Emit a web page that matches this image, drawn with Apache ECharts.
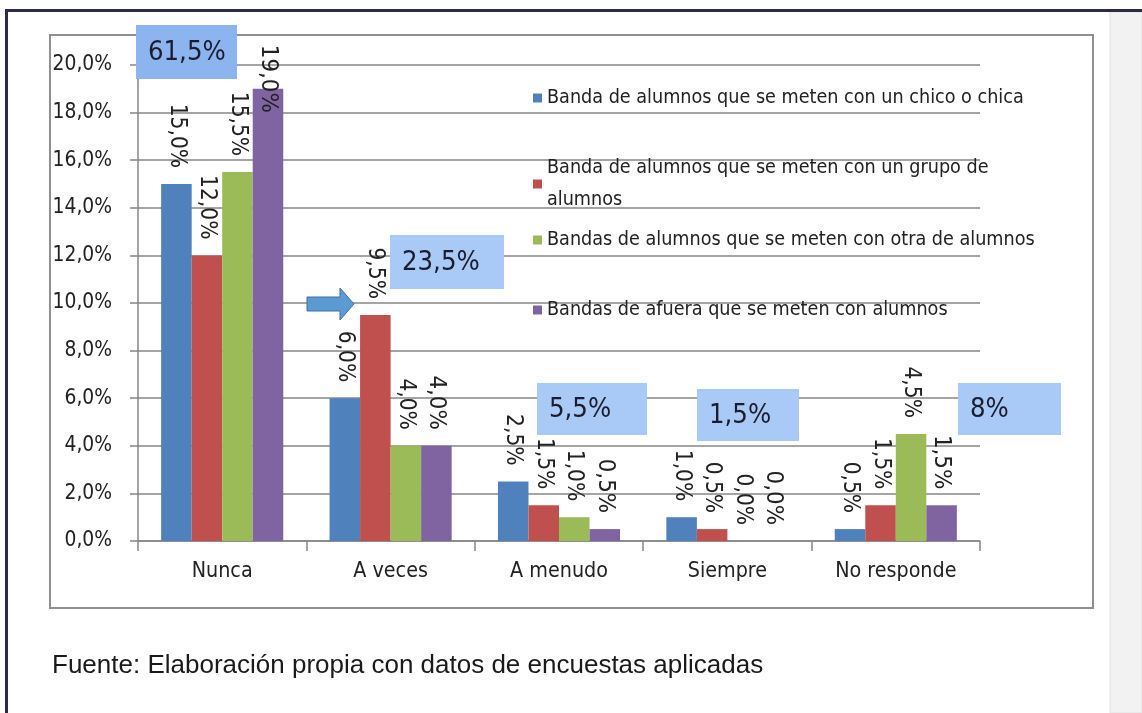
<!DOCTYPE html>
<html><head><meta charset="utf-8">
<script src="https://cdn.jsdelivr.net/npm/echarts@6/dist/echarts.min.js"></script>
<style>html,body{margin:0;padding:0;background:#fff;overflow:hidden}#c{width:1142px;height:713px}</style>
</head><body><div id="c"></div>
<script>
// ---- data ----
const categories = ['Nunca', 'A veces', 'A menudo', 'Siempre', 'No responde'];
const seriesNames = [
  'Banda de alumnos que se meten con un chico o chica',
  'Banda de alumnos que se meten con un grupo de alumnos',
  'Bandas de alumnos que se meten con otra de alumnos',
  'Bandas de afuera que se meten con alumnos'
];
const chicoChica   = [15.0, 6.0, 2.5, 1.0, 0.5];
const grupoAlumnos = [12.0, 9.5, 1.5, 0.5, 1.5];
const otraAlumnos  = [15.5, 4.0, 1.0, 0.0, 4.5];
const deAfuera     = [19.0, 4.0, 0.5, 0.0, 1.5];
const totalLabels  = ['61,5%', '23,5%', '5,5%', '1,5%', '8%'];
const yMin = 0, yMax = 20, yInterval = 2;
const caption = 'Fuente: Elaboración propia con datos de encuestas aplicadas';

// ---- font detection ----
function hasFont(f) {
  const ctx = document.createElement('canvas').getContext('2d');
  const t = 'abcdefghijklmnopqrstuvwxyz0123456789%ABC';
  for (const base of ['monospace', 'serif']) {
    ctx.font = '40px ' + base; const w0 = ctx.measureText(t).width;
    ctx.font = '40px "' + f + '", ' + base;
    if (Math.abs(ctx.measureText(t).width - w0) > 0.5) return true;
  }
  return false;
}
let NF = 'Liberation Sans', NS = 0.82;
if (hasFont('Liberation Sans Narrow')) { NF = 'Liberation Sans Narrow'; NS = 1; }
else if (hasFont('DejaVu Sans Condensed')) { NF = 'DejaVu Sans Condensed'; NS = 0.85; }
const fs = s => Math.round(s * NS * 10) / 10;

const fmt = v => v.toFixed(1).replace('.', ',') + '%';
const colors = ['#4f81bd', '#c0504d', '#9bbb59', '#8064a2'];
const dataSets = [chicoChica, grupoAlumnos, otraAlumnos, deAfuera];
const GRID = '#878787';
const TXT = '#222222';

const chart = echarts.init(document.getElementById('c'), null, {renderer: 'canvas'});

const legendCenters = [98, 184, 240, 310];
const legends = seriesNames.map((n, i) => ({
  data: [n], orient: 'vertical', left: 533,
  top: legendCenters[i] - (i === 1 ? 32 : 16),
  padding: 0, icon: 'rect', itemWidth: 9, itemHeight: 9, selectedMode: false,
  formatter: name => name.replace(' grupo de alumnos', ' grupo de\nalumnos'),
  textStyle: {fontSize: fs(23), fontFamily: NF, color: TXT, lineHeight: 32}
}));

const boxes = [
  {x: 136, y: 25, w: 101, h: 54, c: '#8cb5f0'},
  {x: 390, y: 235, w: 114, h: 54, c: '#a9c9f6'},
  {x: 537, y: 383, w: 110, h: 52, c: '#a9c9f6'},
  {x: 697, y: 389, w: 102, h: 52, c: '#a9c9f6'},
  {x: 958, y: 383, w: 103, h: 52, c: '#a9c9f6'}
];
const boxGraphics = [];
boxes.forEach((b, i) => {
  boxGraphics.push({type: 'rect', z: 100, shape: {x: b.x, y: b.y, width: b.w, height: b.h}, style: {fill: b.c}});
  boxGraphics.push({type: 'text', z: 101, x: b.x + 12, y: b.y + b.h / 2 + 1,
    style: {text: totalLabels[i], fill: '#1c1c30', font: fs(32) + 'px "' + NF + '"', verticalAlign: 'middle', align: 'left'}});
});

const option = {
  backgroundColor: '#ffffff',
  animation: false,
  grid: {left: 138, right: 162, top: 65, bottom: 172, containLabel: false},
  legend: legends,
  xAxis: {
    type: 'category', data: categories,
    axisLine: {lineStyle: {color: GRID, width: 1.5}},
    axisTick: {show: true, alignWithLabel: false, length: 10, lineStyle: {color: GRID, width: 1.5}},
    axisLabel: {fontSize: fs(25), fontFamily: NF, color: TXT, margin: 20}
  },
  yAxis: {
    type: 'value', min: yMin, max: yMax, interval: yInterval,
    axisLine: {show: true, lineStyle: {color: GRID, width: 1.5}},
    axisTick: {show: true, length: 8, lineStyle: {color: GRID, width: 1.5}},
    splitLine: {lineStyle: {color: GRID, width: 1.6}},
    axisLabel: {fontSize: fs(24.5), fontFamily: NF, color: TXT, margin: 26, formatter: v => fmt(v)}
  },
  series: dataSets.map((d, i) => ({
    type: 'bar', name: seriesNames[i],
    data: d.map((v, j) => (i === 3 && j === 0) ? {value: v, label: {distance: -24}} : v),
    barGap: '0%', barCategoryGap: '27.5%',
    itemStyle: {color: colors[i]},
    label: {show: true, position: 'top', distance: 16, rotate: -90, align: 'right', verticalAlign: 'middle',
      formatter: p => fmt(p.value), fontSize: fs(i === 3 ? 28 : 26.5), fontFamily: NF, color: TXT}
  })),
  graphic: [
    {type: 'rect', z: -10, shape: {x: 50, y: 35, width: 1043, height: 573}, style: {fill: '#fff', stroke: '#909090', lineWidth: 2}},
    {type: 'rect', z: 50, shape: {x: 1110, y: 12, width: 32, height: 701}, style: {fill: '#f2f2f2', stroke: '#e2e2e2', lineWidth: 1}},
    {type: 'rect', z: 51, shape: {x: 5, y: 9, width: 1137, height: 3}, style: {fill: '#2a2a4c'}},
    {type: 'rect', z: 51, shape: {x: 5, y: 9, width: 3, height: 704}, style: {fill: '#2a2a4c'}},
    {type: 'polygon', z: 100, shape: {points: [[307, 297], [340, 297], [340, 288], [354, 304], [340, 320], [340, 311], [307, 311]]},
      style: {fill: '#5b9bd5', stroke: '#41719c', lineWidth: 1}},
    {type: 'text', z: 100, x: 52, y: 666,
      style: {text: caption, fill: '#1a1a1a', font: '26px "Liberation Sans", Arial, sans-serif', verticalAlign: 'middle'}}
  ].concat(boxGraphics)
};
chart.setOption(option);
</script>
</body></html>
